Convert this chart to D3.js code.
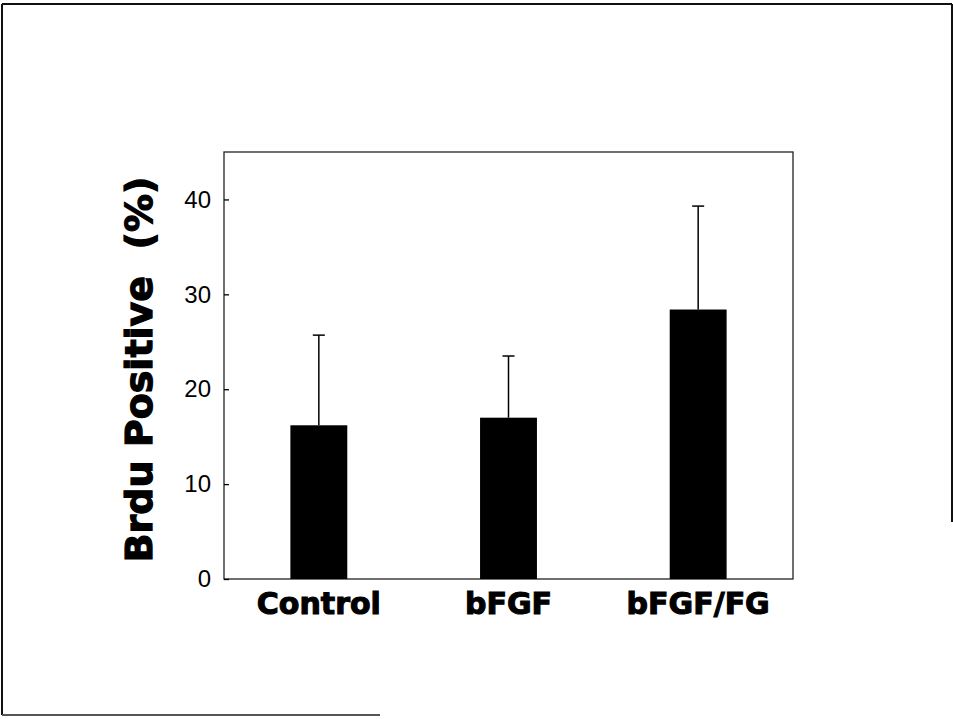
<!DOCTYPE html>
<html>
<head>
<meta charset="utf-8">
<script src="https://cdn.jsdelivr.net/npm/d3@7"></script>
<style>
  html, body { margin: 0; padding: 0; background: #fff; }
  svg { display: block; }
</style>
</head>
<body>
<svg id="chart" width="953" height="719"></svg>
<script>
const categories = ["Control", "bFGF", "bFGF/FG"];
const means = [16.2, 17.0, 28.4];
const errUpper = [25.7, 23.5, 39.3];
const yTicks = [0, 10, 20, 30, 40];
const yTitle = "Brdu Positive  (%)";

const svg = d3.select("#chart");

// scanned page border
const border = svg.append("g").attr("stroke", "#111").attr("stroke-width", 2).attr("fill", "none");
border.append("line").attr("x1", 2).attr("y1", 4).attr("x2", 952).attr("y2", 4);
border.append("line").attr("x1", 2).attr("y1", 4).attr("x2", 2).attr("y2", 715);
border.append("line").attr("x1", 952).attr("y1", 4).attr("x2", 952).attr("y2", 522);
border.append("line").attr("x1", 2).attr("y1", 715).attr("x2", 380).attr("y2", 715).attr("stroke", "#555");

const m = { left: 224, top: 152, right: 793, bottom: 579 };

const x = d3.scaleBand()
  .domain(categories)
  .range([m.left, m.right])
  .paddingInner(0.7)
  .paddingOuter(0.35);

const y = d3.scaleLinear()
  .domain([0, 45])
  .range([m.bottom, m.top]);

// plot frame
svg.append("rect")
  .attr("x", m.left).attr("y", m.top)
  .attr("width", m.right - m.left).attr("height", m.bottom - m.top)
  .attr("fill", "none").attr("stroke", "#222").attr("stroke-width", 1.3);

// bars
svg.append("g").selectAll("rect")
  .data(categories)
  .join("rect")
  .attr("x", d => x(d))
  .attr("width", x.bandwidth())
  .attr("y", (d, i) => y(means[i]))
  .attr("height", (d, i) => y(0) - y(means[i]))
  .attr("fill", "#000");

// error bars (upper)
const eb = svg.append("g").attr("stroke", "#000").attr("stroke-width", 1.5);
categories.forEach((c, i) => {
  const cx = x(c) + x.bandwidth() / 2;
  eb.append("line").attr("x1", cx).attr("x2", cx).attr("y1", y(means[i])).attr("y2", y(errUpper[i]));
  eb.append("line").attr("x1", cx - 6).attr("x2", cx + 6).attr("y1", y(errUpper[i])).attr("y2", y(errUpper[i]));
});

// y axis
const yAxis = d3.axisLeft(y)
  .tickValues(yTicks)
  .tickSizeInner(-5)
  .tickSizeOuter(0)
  .tickPadding(13)
  .tickFormat(d3.format("d"));

const ya = svg.append("g")
  .attr("transform", `translate(${m.left},0)`)
  .call(yAxis);
ya.select(".domain").remove();
ya.selectAll(".tick line").attr("stroke", "#000").attr("stroke-width", 1.3);
ya.selectAll(".tick text")
  .attr("font-family", "'Liberation Sans', Arial, sans-serif")
  .attr("font-size", 24)
  .attr("fill", "#000");

// x axis labels
const xAxis = d3.axisBottom(x).tickSize(0).tickPadding(0);
const xa = svg.append("g")
  .attr("transform", `translate(0,${m.bottom})`)
  .call(xAxis);
xa.select(".domain").remove();
xa.selectAll(".tick text")
  .attr("dy", null)
  .attr("y", 35)
  .attr("font-family", "'DejaVu Sans', sans-serif")
  .attr("font-weight", "bold")
  .attr("font-size", 30)
  .attr("fill", "#000")
  .attr("stroke", "#000")
  .attr("stroke-width", 1.1);

// y title
svg.append("text")
  .attr("transform", `translate(152,${(m.top + m.bottom) / 2 + 4}) rotate(-90)`)
  .attr("text-anchor", "middle")
  .attr("font-family", "'DejaVu Sans', sans-serif")
  .attr("font-weight", "bold")
  .attr("font-size", 38)
  .attr("fill", "#000")
  .attr("stroke", "#000")
  .attr("stroke-width", 1.2)
  .attr("xml:space", "preserve")
  .style("white-space", "pre")
  .text(yTitle);
</script>
</body>
</html>
